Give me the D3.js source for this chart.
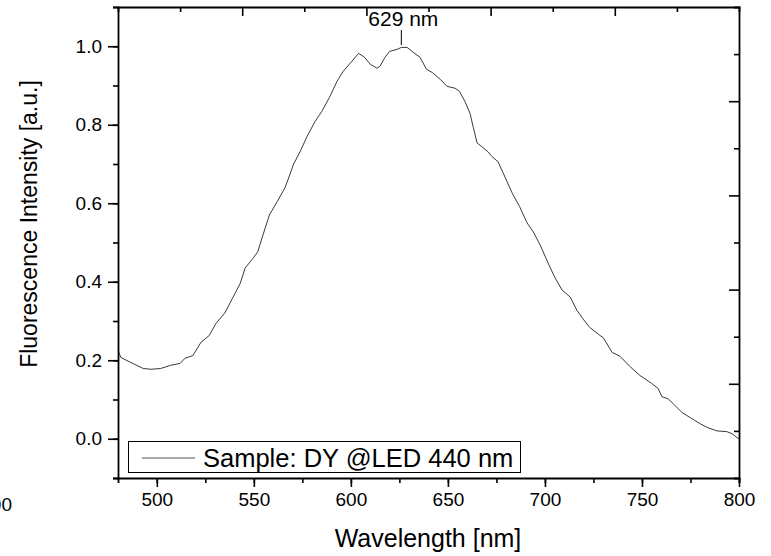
<!DOCTYPE html>
<meta charset="utf-8">
<style>
body { margin: 0; background: #fff; }
text { font-family: "Liberation Sans", Arial, sans-serif; fill: #000; }
.axis path { stroke: #000; stroke-width: 1.8px; }
.axis line { stroke: #000; stroke-width: 1.6px; }
.axis text { font-size: 19px; }
.spectrum { fill: none; stroke: #3a3a3a; stroke-width: 1px; }
</style>
<body>
<script src="https://cdn.jsdelivr.net/npm/d3@7"></script>
<script>

var width = 771,
    height = 556;

// wavelength [nm] and normalised intensity
var wavelength = [480, 481.5, 486.7, 493, 497, 502, 507, 512, 514.5, 518.6,
  522.8, 527, 530.5, 535, 539, 543, 545.5, 549.6, 552, 554.7,
  558, 562, 566, 567.6, 570.5, 573.8, 577.4, 581.5, 585, 589,
  592.8, 596, 600.6, 604, 607, 610, 613.5, 615, 617.6, 620,
  623.8, 626, 629, 632, 635.6, 639, 642, 646, 649.5, 653.7,
  656, 658.8, 661.4, 663, 665, 668, 670.7, 672.7, 675.8, 678.4,
  683, 687, 690.8, 694, 697.5, 701.6, 705, 708.8, 713, 716.5,
  720, 723, 728.4, 730, 734.6, 738.7, 743.8, 749, 755, 758.3,
  760.3, 763.4, 766, 770.6, 774.8, 780, 784, 788.7, 793.8, 796.4,
  799, 800];
var intensity = [0.225, 0.207, 0.194, 0.179, 0.177, 0.179, 0.187, 0.192, 0.205, 0.212,
  0.246, 0.263, 0.294, 0.320, 0.358, 0.396, 0.435, 0.460, 0.476, 0.519,
  0.570, 0.604, 0.639, 0.660, 0.700, 0.731, 0.770, 0.808, 0.834, 0.870,
  0.910, 0.936, 0.962, 0.982, 0.972, 0.954, 0.944, 0.949, 0.972, 0.987,
  0.992, 0.997, 0.997, 0.985, 0.972, 0.941, 0.933, 0.916, 0.898, 0.893,
  0.885, 0.859, 0.829, 0.795, 0.754, 0.742, 0.731, 0.719, 0.706, 0.678,
  0.627, 0.591, 0.550, 0.527, 0.494, 0.448, 0.412, 0.379, 0.361, 0.327,
  0.303, 0.284, 0.263, 0.258, 0.220, 0.210, 0.184, 0.161, 0.141, 0.128,
  0.107, 0.102, 0.090, 0.067, 0.054, 0.038, 0.028, 0.020, 0.018, 0.013,
  0.003, 0.000];

var xTicks = [500, 550, 600, 650, 700, 750, 800];
var yTicks = [0.0, 0.2, 0.4, 0.6, 0.8, 1.0];
var peakNm = 626;
var peakLabel = "629 nm";
var legendLabel = "Sample: DY @LED 440 nm";

var mLeft = 118, mRight = 739, mTop = 7, mBottom = 478;

var x = d3.scaleLinear().domain([480, 800]).range([mLeft, mRight]);
var y = d3.scaleLinear().domain([-0.1, 1.1]).range([mBottom, mTop]);
// the top/right frame carries another layer's 0..1 ticks
var xTop = d3.scaleLinear().domain([0, 1]).range([mLeft, mRight]);
var yRight = d3.scaleLinear().domain([0, 1]).range([mBottom, mTop]);

var svg = d3.select("body").append("svg")
    .attr("width", width)
    .attr("height", height);

var pts = wavelength.map(function(w, i) { return [w, intensity[i]]; });

var line = d3.line()
    .x(function(d) { return x(d[0]); })
    .y(function(d) { return y(d[1]); });

svg.append("path")
    .datum(pts)
    .attr("class", "spectrum")
    .attr("d", line);

// bottom axis, major + minor ticks outward
svg.append("g").attr("class", "axis")
    .attr("transform", "translate(0," + mBottom + ")")
    .call(d3.axisBottom(x).tickValues(d3.range(500, 801, 25)).tickSize(5).tickFormat(""))
    .call(function(g) { g.selectAll("text").remove(); });
svg.append("g").attr("class", "axis")
    .attr("transform", "translate(0," + mBottom + ")")
    .call(d3.axisBottom(x).tickValues(xTicks).tickSize(9).tickPadding(6).tickFormat(d3.format("d")))
    .call(function(g) { g.select(".domain").remove(); });

// left axis
svg.append("g").attr("class", "axis")
    .attr("transform", "translate(" + mLeft + ",0)")
    .call(d3.axisLeft(y).tickValues(d3.range(-0.1, 1.11, 0.1)).tickSize(5).tickFormat(""))
    .call(function(g) { g.selectAll("text").remove(); });
svg.append("g").attr("class", "axis")
    .attr("transform", "translate(" + mLeft + ",0)")
    .call(d3.axisLeft(y).tickValues(yTicks).tickSize(10).tickPadding(6).tickFormat(d3.format(".1f")))
    .call(function(g) { g.select(".domain").remove(); });

// top axis, ticks pointing in
svg.append("g").attr("class", "axis")
    .attr("transform", "translate(0," + mTop + ")")
    .call(d3.axisTop(xTop).tickValues([0.1, 0.3, 0.5, 0.7, 0.9]).tickSize(-5).tickFormat(""));
svg.append("g").attr("class", "axis")
    .attr("transform", "translate(0," + mTop + ")")
    .call(d3.axisTop(xTop).tickValues([0.2, 0.4, 0.6, 0.8]).tickSize(-9).tickFormat(""))
    .call(function(g) { g.select(".domain").remove(); });

// right axis, ticks pointing in
svg.append("g").attr("class", "axis")
    .attr("transform", "translate(" + mRight + ",0)")
    .call(d3.axisRight(yRight).tickValues([0.1, 0.3, 0.5, 0.7, 0.9]).tickSize(-5).tickFormat(""));
svg.append("g").attr("class", "axis")
    .attr("transform", "translate(" + mRight + ",0)")
    .call(d3.axisRight(yRight).tickValues([0.2, 0.4, 0.6, 0.8]).tickSize(-10).tickFormat(""))
    .call(function(g) { g.select(".domain").remove(); });

// axis titles
svg.append("text")
    .attr("x", 428)
    .attr("y", 547)
    .attr("text-anchor", "middle")
    .style("font-size", "25px")
    .text("Wavelength [nm]");

svg.append("text")
    .attr("transform", "translate(37,224) rotate(-90)")
    .attr("text-anchor", "middle")
    .style("font-size", "23px")
    .text("Fluorescence Intensity [a.u.]");

// peak marker
svg.append("line")
    .attr("x1", x(peakNm)).attr("x2", x(peakNm))
    .attr("y1", 30).attr("y2", 45)
    .attr("stroke", "#000").attr("stroke-width", 1);
svg.append("text")
    .attr("x", x(peakNm) + 2)
    .attr("y", 26)
    .attr("text-anchor", "middle")
    .style("font-size", "21px")
    .text(peakLabel);

// legend
var leg = svg.append("g");
leg.append("rect")
    .attr("x", 128.5).attr("y", 441.5)
    .attr("width", 392).attr("height", 31)
    .attr("fill", "#fff").attr("stroke", "#000").attr("stroke-width", 1);
leg.append("line")
    .attr("x1", 142).attr("x2", 195)
    .attr("y1", 458).attr("y2", 458)
    .attr("stroke", "#555").attr("stroke-width", 1.2);
leg.append("text")
    .attr("x", 203).attr("y", 467)
    .style("font-size", "25.5px")
    .text(legendLabel);

// stray tick label from a neighbouring panel, cut at the page edge
svg.append("text")
    .attr("x", 12).attr("y", 511)
    .attr("text-anchor", "end")
    .style("font-size", "19px")
    .text("800");

</script>
